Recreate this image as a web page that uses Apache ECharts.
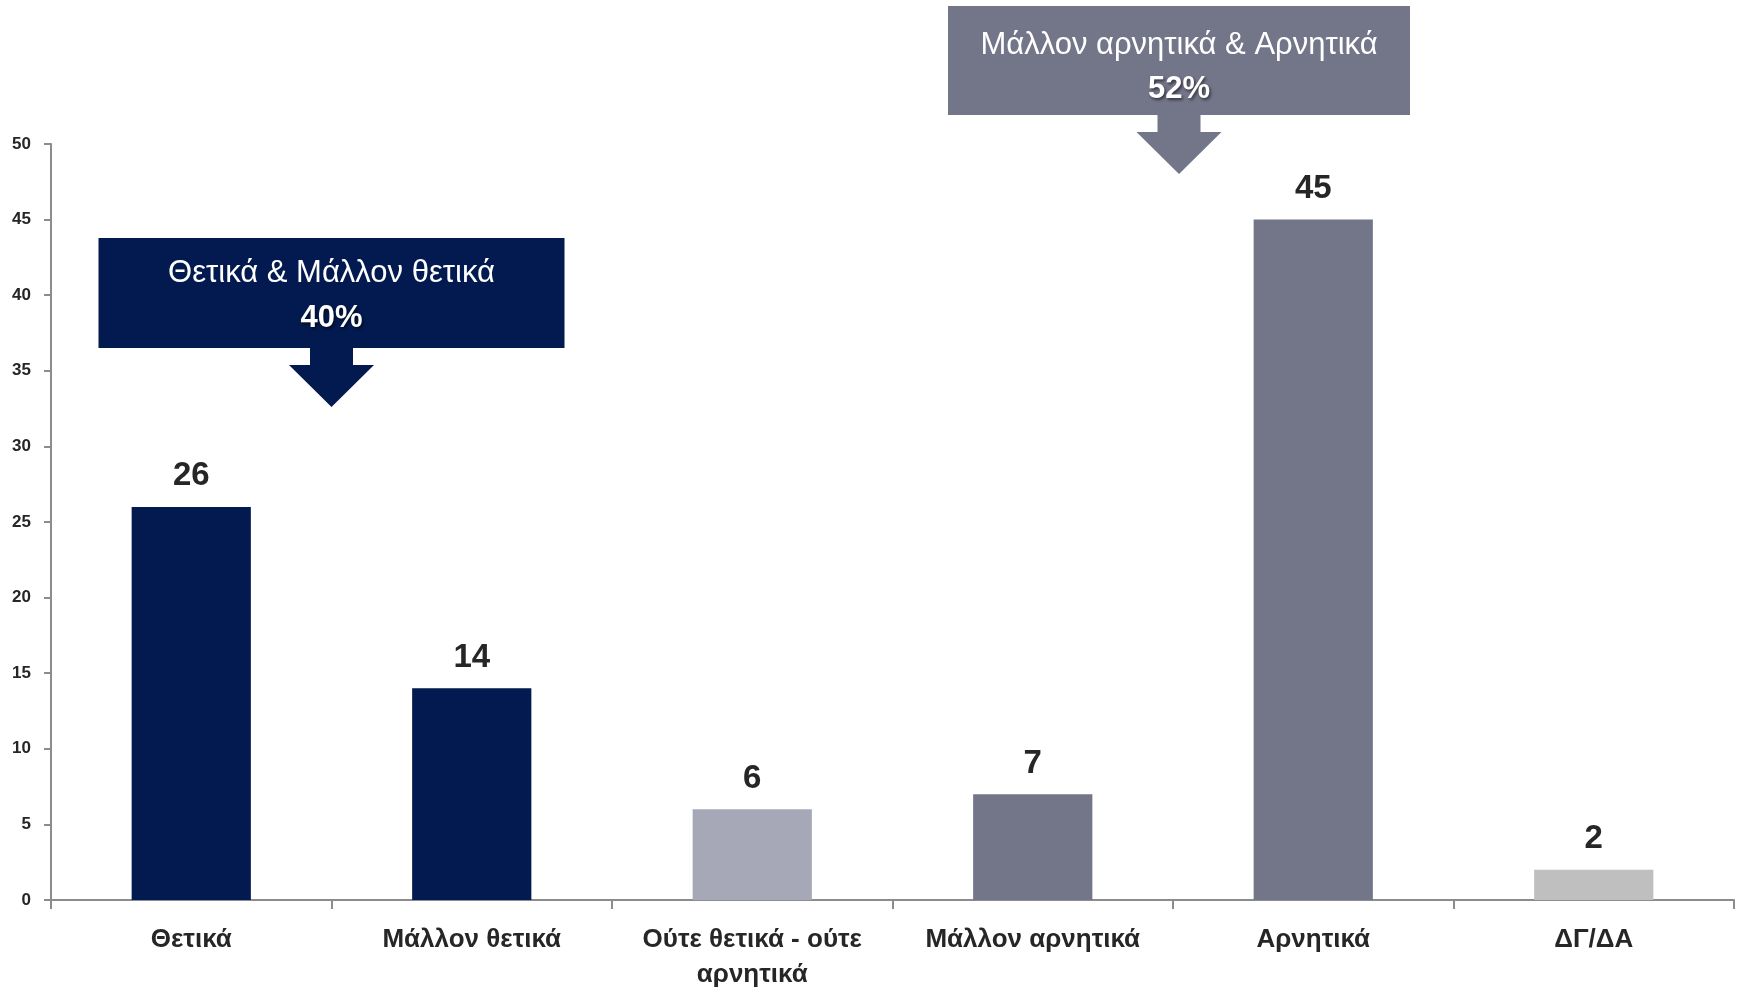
<!DOCTYPE html>
<html><head><meta charset="utf-8">
<script src="https://cdn.jsdelivr.net/npm/echarts@6/dist/echarts.min.js"></script>
<style>html,body{margin:0;padding:0;background:#fff}#c{width:1740px;height:994px}</style>
</head><body><div id="c"></div>
<script>
const categories = ['Θετικά', 'Μάλλον θετικά', 'Ούτε θετικά - ούτε αρνητικά', 'Μάλλον αρνητικά', 'Αρνητικά', 'ΔΓ/ΔΑ'];
const values = [26, 14, 6, 7, 45, 2];
const yMin = 0, yMax = 50, yStep = 5;
const groupLabels = ['Θετικά & Μάλλον θετικά', 'Μάλλον αρνητικά & Αρνητικά'];
const groupTotals = [40, 52];
const groupSpans = [[0, 1], [3, 4]];

const FONT = "'Liberation Sans Narrow', 'Arial Narrow', 'Liberation Sans', Arial, sans-serif";
const colors = ['#021A4F', '#021A4F', '#A6A8B8', '#737589', '#737589', '#BFBFBF'];

function wrapLabel(s, maxChars) {
  const words = s.split(' ');
  const lines = [];
  let cur = '';
  words.forEach(w => {
    const next = cur ? cur + ' ' + w : w;
    if (next.length > maxChars && cur) { lines.push(cur); cur = w; } else { cur = next; }
  });
  if (cur) lines.push(cur);
  return lines.join('\n');
}

const chart = echarts.init(document.getElementById('c'), null, {renderer: 'canvas'});
const option = {
  animation: false,
  backgroundColor: '#fff',
  grid: {left: 51, right: 6, top: 144, bottom: 94, containLabel: false, outerBoundsMode: 'none'},
  xAxis: {
    type: 'category',
    data: categories,
    axisLine: {lineStyle: {color: '#8C8C8C', width: 2}},
    axisTick: {show: true, length: 9, lineStyle: {color: '#8C8C8C', width: 2}, alignWithLabel: false},
    axisLabel: {
      margin: 22, color: '#262626', fontFamily: FONT, fontWeight: 'bold', fontSize: 26,
      lineHeight: 35, interval: 0, hideOverlap: false,
      formatter: v => wrapLabel(v, 18)
    }
  },
  yAxis: {
    type: 'value', min: yMin, max: yMax, interval: yStep,
    splitLine: {show: false},
    axisLine: {show: true, lineStyle: {color: '#8C8C8C', width: 2}},
    axisTick: {show: true, length: 7, lineStyle: {color: '#8C8C8C', width: 2}},
    axisLabel: {margin: 20, color: '#262626', fontFamily: FONT, fontWeight: 'bold', fontSize: 17}
  },
  series: [{
    type: 'bar',
    barWidth: '42.5%',
    data: values.map((v, i) => ({value: v, itemStyle: {color: colors[i]}})),
    label: {
      show: true, position: 'top', distance: 14,
      color: '#262626', fontFamily: FONT, fontWeight: 'bold', fontSize: 33
    }
  }]
};
chart.setOption(option);

const boxes = [
  {top: 238, w: 466, h: 110, color: '#021A4F', line1Y: 273, line2Y: 318},
  {top: 6, w: 462, h: 109, color: '#737589', line1Y: 45, line2Y: 89}
];
const graphics = [];
groupLabels.forEach((lab, g) => {
  const a = chart.convertToPixel({xAxisIndex: 0}, groupSpans[g][0]);
  const b = chart.convertToPixel({xAxisIndex: 0}, groupSpans[g][1]);
  const cx = (a + b) / 2 + (g === 1 ? 6 : 0);
  const bx = boxes[g];
  const bottom = bx.top + bx.h;
  graphics.push({
    type: 'rect', shape: {x: cx - bx.w / 2, y: bx.top, width: bx.w, height: bx.h},
    style: {fill: bx.color}, z: 10
  });
  graphics.push({
    type: 'polygon',
    shape: {points: [
      [cx - 21.5, bottom - 1], [cx + 21.5, bottom - 1], [cx + 21.5, bottom + 17], [cx + 42.5, bottom + 17],
      [cx, bottom + 59], [cx - 42.5, bottom + 17], [cx - 21.5, bottom + 17]
    ]},
    style: {fill: bx.color}, z: 10
  });
  graphics.push({
    type: 'text', x: cx, y: bx.line1Y, z: 11,
    style: {text: lab, fill: '#fff', font: "normal 31px " + FONT, textAlign: 'center', textVerticalAlign: 'middle'}
  });
  graphics.push({
    type: 'text', x: cx, y: bx.line2Y, z: 11,
    style: {text: groupTotals[g] + '%', fill: '#fff', font: "bold 31px " + FONT, textAlign: 'center', textVerticalAlign: 'middle',
      textShadowColor: 'rgba(0,0,0,0.55)', textShadowBlur: 3, textShadowOffsetX: 1.5, textShadowOffsetY: 2}
  });
});
chart.setOption({graphic: graphics});
</script>
</body></html>
